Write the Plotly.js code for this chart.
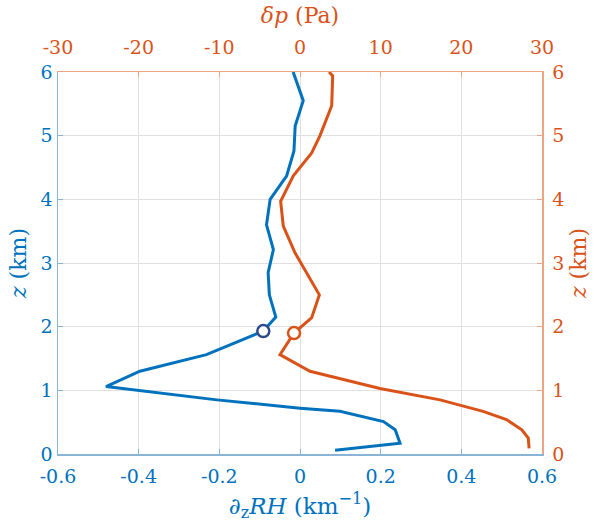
<!DOCTYPE html>
<html>
<head>
<meta charset="utf-8">
<script src="https://cdn.plot.ly/plotly-3.0.1.min.js"></script>
<style>html,body{margin:0;padding:0;background:#fff;}#chart{width:594px;height:526px;}</style>
</head>
<body>
<div id="chart"></div>
<script>
// Blue series: vertical gradient of relative humidity (km^-1) vs height (km)
const rhZ = [6.0, 5.55, 5.15, 4.76, 4.37, 4.0, 3.6, 3.21, 2.85, 2.5, 2.15, 1.93, 1.56, 1.30, 1.06, 0.85, 0.72, 0.67, 0.51, 0.38, 0.17, 0.06];
const rhX = [-0.017, 0.008, -0.012, -0.015, -0.033, -0.074, -0.083, -0.066, -0.079, -0.076, -0.060, -0.091, -0.232, -0.397, -0.481, -0.206, 0.0, 0.099, 0.207, 0.236, 0.248, 0.087];
// Orange series: pressure perturbation (Pa) vs height (km)
const dpZ = [6.0, 5.94, 5.47, 5.0, 4.73, 4.37, 3.97, 3.58, 3.16, 2.5, 2.14, 1.90, 1.56, 1.30, 1.03, 0.85, 0.67, 0.54, 0.38, 0.25, 0.09];
const dpX = [3.6, 4.05, 3.93, 2.48, 1.45, -0.83, -2.4, -2.07, -0.62, 2.4, 1.45, -0.74, -2.48, 1.24, 9.92, 17.36, 22.7, 25.6, 27.5, 28.3, 28.4];
// Highlighted points
const markRH = {x: [-0.091], z: [1.93]};
const markDP = {x: [-0.74], z: [1.90]};
const bottomTicks = [-0.6, -0.4, -0.2, 0, 0.2, 0.4, 0.6];
const bottomLabels = ['-0.6', '-0.4', '-0.2', '0', '0.2', '0.4', '0.6'];
const topTicks = [-30, -20, -10, 0, 10, 20, 30];
const topLabels = ['-30', '-20', '-10', '0', '10', '20', '30'];
const zTicks = [0, 1, 2, 3, 4, 5, 6];

const BLUE = '#0072BD', ORANGE = '#D95319';
const FONT = "'DejaVu Serif', 'Liberation Serif', serif";

const traces = [
  {x: rhX, y: rhZ, xaxis: 'x', yaxis: 'y', mode: 'lines', line: {color: BLUE, width: 3}, hoverinfo: 'skip'},
  {x: dpX, y: dpZ, xaxis: 'x2', yaxis: 'y2', mode: 'lines', line: {color: ORANGE, width: 3}, hoverinfo: 'skip'},
  {x: markRH.x, y: markRH.z, xaxis: 'x', yaxis: 'y', mode: 'markers',
   marker: {symbol: 'circle', size: 12, color: '#ffffff', line: {color: '#2E4A8E', width: 2.5}}, hoverinfo: 'skip'},
  {x: markDP.x, y: markDP.z, xaxis: 'x2', yaxis: 'y2', mode: 'markers',
   marker: {symbol: 'circle', size: 12, color: '#ffffff', line: {color: ORANGE, width: 2.5}}, hoverinfo: 'skip'}
];

const layout = {
  width: 594, height: 526,
  margin: {l: 58, r: 52, t: 72, b: 72},
  paper_bgcolor: '#fff', plot_bgcolor: '#fff',
  showlegend: false,
  font: {family: FONT, size: 19},
  xaxis: {
    range: [-0.6, 0.6], tickvals: bottomTicks, ticktext: bottomLabels,
    showgrid: true, gridcolor: '#e0e0e0', gridwidth: 1, zeroline: false,
    showline: true, linecolor: '#8ab4d6', linewidth: 1.5,
    ticks: 'inside', ticklen: 5, tickcolor: '#8ab4d6', ticklabelstandoff: 5,
    tickfont: {color: BLUE, size: 19, family: FONT},
    title: {text: '∂<sub>z</sub><i>RH</i> (km<sup>−1</sup>)', font: {color: BLUE, size: 23, family: FONT}, standoff: 11},
    fixedrange: true
  },
  xaxis2: {
    overlaying: 'x', side: 'top', range: [-30, 30], tickvals: topTicks, ticktext: topLabels,
    showgrid: false, zeroline: false,
    showline: true, linecolor: '#eba585', linewidth: 1.5,
    ticks: 'inside', ticklen: 5, tickcolor: '#eba585', ticklabelstandoff: 9,
    tickfont: {color: ORANGE, size: 19, family: FONT},
    title: {text: '<i>δp</i> (Pa)', font: {color: ORANGE, size: 22, family: FONT}, standoff: 6},
    fixedrange: true
  },
  yaxis: {
    range: [0, 6], tickvals: zTicks,
    showgrid: true, gridcolor: '#e0e0e0', gridwidth: 1, zeroline: false,
    showline: true, linecolor: '#8ab4d6', linewidth: 1.5,
    ticks: 'inside', ticklen: 5, tickcolor: '#8ab4d6',
    tickfont: {color: BLUE, size: 19, family: FONT},
    title: {text: '<i>z</i> (km)', font: {color: BLUE, size: 22, family: FONT}, standoff: 8},
    fixedrange: true
  },
  yaxis2: {
    overlaying: 'y', side: 'right', range: [0, 6], tickvals: zTicks,
    showgrid: false, zeroline: false,
    showline: true, linecolor: '#eba585', linewidth: 1.5,
    ticks: 'inside', ticklen: 5, tickcolor: '#eba585', ticklabelstandoff: 5,
    tickfont: {color: ORANGE, size: 19, family: FONT},
    title: {text: '<i>z</i> (km)', font: {color: ORANGE, size: 22, family: FONT}, standoff: 7},
    fixedrange: true
  }
};

Plotly.newPlot('chart', traces, layout, {staticPlot: true, displayModeBar: false});
</script>
</body>
</html>
